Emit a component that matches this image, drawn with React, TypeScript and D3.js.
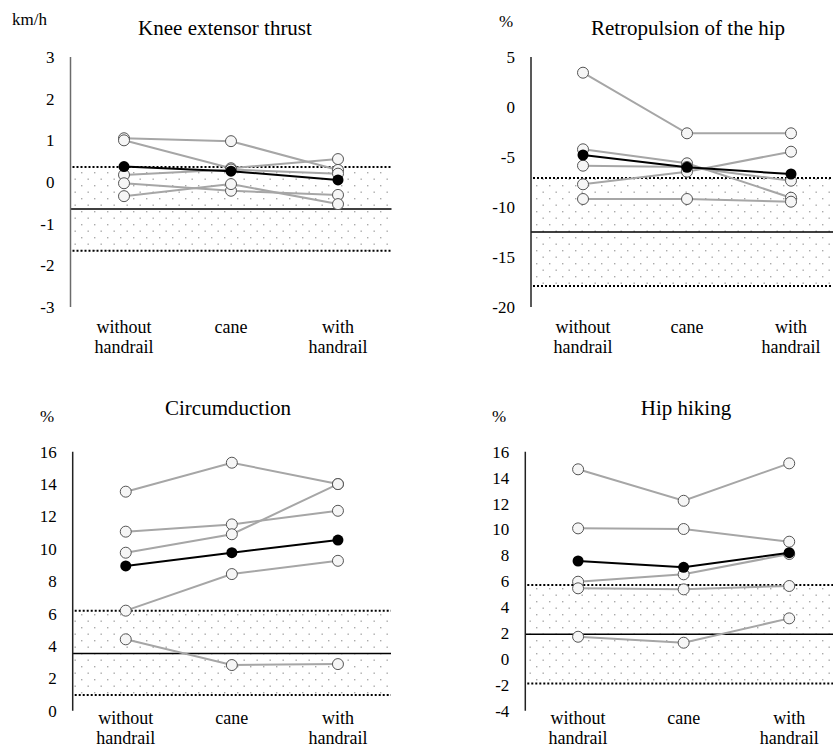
import React from 'react'
import * as d3 from 'd3'

// conditions on the x axis
const categories = ['without handrail', 'cane', 'with handrail']

// knee extensor thrust (km/h)
const kneeSubjects = [
  [1.05, 0.98, 0.29],
  [1.0, 0.33, 0.55],
  [0.17, 0.3, 0.2],
  [-0.03, -0.21, -0.31],
  [-0.34, -0.05, -0.53],
]
const kneeMean = [0.37, 0.26, 0.05]
const kneeNorm = [0.36, -0.65, -1.65] // upper, mean, lower
const kneeTicks = [3, 2, 1, 0, -1, -2, -3]

// retropulsion of the hip (%)
const retroSubjects = [
  [3.43, -2.63, -2.63],
  [-4.23, -5.63, -9.07],
  [-5.87, -6.0, -7.37],
  [-7.73, -6.47, -4.47],
  [-9.2, -9.2, -9.47],
]
const retroMean = [-4.8, -6.03, -6.7]
const retroNorm = [-7.1, -12.5, -17.9]
const retroTicks = [5, 0, -5, -10, -15, -20]

// circumduction (%)
const circSubjects = [
  [13.53, 15.32, 14.0],
  [11.06, 11.51, 12.35],
  [9.76, 10.9, 14.0],
  [6.18, 8.44, 9.26],
  [4.41, 2.82, 2.88],
]
const circMean = [8.94, 9.76, 10.54]
const circNorm = [6.18, 3.54, 0.97]
const circTicks = [16, 14, 12, 10, 8, 6, 4, 2, 0]

// hip hiking (%)
const hipSubjects = [
  [14.64, 12.21, 15.1],
  [10.08, 10.03, 9.05],
  [5.96, 6.53, 8.1],
  [5.45, 5.37, 5.63],
  [1.71, 1.25, 3.13],
]
const hipMean = [7.56, 7.07, 8.2]
const hipNorm = [5.71, 1.9, -1.89]
const hipTicks = [16, 14, 12, 10, 8, 6, 4, 2, 0, -2, -4]

const panels = [
  {
    title: 'Knee extensor thrust', unit: 'km/h', subjects: kneeSubjects, mean: kneeMean, norm: kneeNorm, ticks: kneeTicks,
    x0: 70.5, x1: 391.5, yTop: 57, yBot: 307, titleX: 225, titleY: 35, unitX: 12, unitY: 25, unitAnchor: 'start',
    catY: 333, axisColor: '#6b6b6b',
  },
  {
    title: 'Retropulsion of the hip', unit: '%', subjects: retroSubjects, mean: retroMean, norm: retroNorm, ticks: retroTicks,
    x0: 531, x1: 843, yTop: 57, yBot: 307, titleX: 688, titleY: 35, unitX: 506, unitY: 27, unitAnchor: 'middle',
    catY: 333, axisColor: '#222',
  },
  {
    title: 'Circumduction', unit: '%', subjects: circSubjects, mean: circMean, norm: circNorm, ticks: circTicks,
    x0: 72.7, x1: 391, yTop: 451.7, yBot: 710.7, titleX: 228, titleY: 415, unitX: 47, unitY: 422, unitAnchor: 'middle',
    catY: 724, axisColor: '#222',
  },
  {
    title: 'Hip hiking', unit: '%', subjects: hipSubjects, mean: hipMean, norm: hipNorm, ticks: hipTicks,
    x0: 525.3, x1: 842, yTop: 451.7, yBot: 710.7, titleX: 686, titleY: 415, unitX: 499, unitY: 422, unitAnchor: 'middle',
    catY: 724, axisColor: '#222',
  },
]

const W = 833
const H = 747
const FONT = '"Times New Roman", "Liberation Serif", Tinos, serif'

const Panel = ({ p }: { p: (typeof panels)[number] }) => {
  const y = d3
    .scaleLinear()
    .domain([d3.min(p.ticks) as number, d3.max(p.ticks) as number])
    .range([p.yBot, p.yTop])
  const x = d3.scaleBand().domain(categories).range([p.x0, p.x1])
  const cx = (i: number) => (x(categories[i]) as number) + x.bandwidth() / 2
  const line = d3
    .line<number>()
    .x((d, i) => cx(i))
    .y(d => y(d))

  return (
    <g>
      {/* normal range */}
      <rect x={p.x0} y={y(p.norm[0])} width={p.x1 - p.x0} height={y(p.norm[2]) - y(p.norm[0])} fill="url(#dots)" />
      {[p.norm[0], p.norm[2]].map((v, i) => (
        <line key={i} x1={p.x0 + 2} x2={p.x1} y1={y(v)} y2={y(v)} stroke="#000" strokeWidth={2} strokeDasharray="2,2" />
      ))}
      <line x1={p.x0} x2={p.x1} y1={y(p.norm[1])} y2={y(p.norm[1])} stroke="#000" strokeWidth={1.5} />

      {/* y axis */}
      <line x1={p.x0} x2={p.x0} y1={y.range()[1]} y2={y.range()[0]} stroke={p.axisColor} strokeWidth={1.5} />
      {p.ticks.map(t => (
        <text key={t} x={p.x0 - 16} y={y(t) + 6} textAnchor="end" style={{ fontFamily: FONT, fontSize: 17 }}>
          {String(t)}
        </text>
      ))}

      {/* category labels */}
      {categories.map((c, i) => {
        const words = c.split(' ')
        const lines = words.length > 1 ? [words[0], words.slice(1).join(' ')] : words
        return lines.map((l, k) => (
          <text key={c + k} x={cx(i)} y={p.catY + k * 20} textAnchor="middle" style={{ fontFamily: FONT, fontSize: 18 }}>
            {l}
          </text>
        ))
      })}

      <text x={p.titleX} y={p.titleY} textAnchor="middle" style={{ fontFamily: FONT, fontSize: 21 }}>
        {p.title}
      </text>
      <text x={p.unitX} y={p.unitY} textAnchor={p.unitAnchor as any} style={{ fontFamily: FONT, fontSize: 17 }}>
        {p.unit}
      </text>

      {/* subjects */}
      {p.subjects.map((s, j) => (
        <path key={'l' + j} d={line(s) as string} fill="none" stroke="#a6a6a6" strokeWidth={2} />
      ))}
      {p.subjects.map((s, j) =>
        s.map((v, i) => (
          <circle key={'c' + j + '-' + i} cx={cx(i)} cy={y(v)} r={5.5} fill="#f6f6f6" stroke="#555" strokeWidth={1} />
        ))
      )}

      {/* mean */}
      <path d={line(p.mean) as string} fill="none" stroke="#000" strokeWidth={2} />
      {p.mean.map((v, i) => (
        <circle key={'m' + i} cx={cx(i)} cy={y(v)} r={5.5} fill="#000" />
      ))}
    </g>
  )
}

const App = () => (
  <svg
    width={W}
    height={H}
    style={{ position: 'absolute', left: 0, top: 0, display: 'block', background: '#fff', fontFamily: FONT }}
  >
    <defs>
      <pattern id="dots" patternUnits="userSpaceOnUse" width={13} height={13}>
        <rect width={13} height={13} fill="#fff" />
        <rect x={3} y={3} width={1.4} height={1.4} fill="#aaa" />
        <rect x={9.5} y={9.5} width={1.4} height={1.4} fill="#aaa" />
      </pattern>
    </defs>
    {panels.map(p => (
      <Panel key={p.title} p={p} />
    ))}
  </svg>
)

export default App
